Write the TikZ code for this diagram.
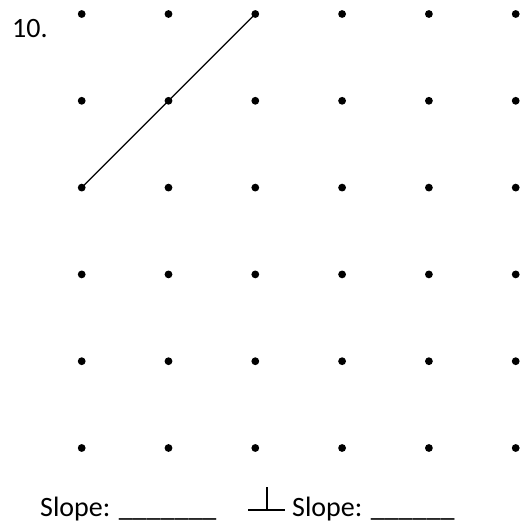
\documentclass[tikz,border=0pt]{standalone}
\usepackage{fontspec}
\setmainfont{Carlito}
\tikzset{
  gdot/.style={circle,fill=black,inner sep=0pt,minimum size=7.8pt},
  lbl/.style={anchor=base west,inner sep=0pt,font=\fontsize{28}{34}\selectfont},
  seg/.style={draw=black,line width=1.3pt},
  perp/.style={draw=black,line width=2pt}
}
\begin{document}
\begin{tikzpicture}[x=1pt,y=-1pt]
\useasboundingbox (0,0) rectangle (532,529);
\foreach \i in {0,...,5}{
  \foreach \j in {0,...,5}{
    \node[gdot] (d-\i-\j) at ({81.7+86.8*\i},{14+86.8*\j}) {};
  }
}
\draw[seg] (d-0-2.center) -- (d-2-0.center);
\node[lbl] (num) at (12,38) {10.};
\node[lbl] (s1) at (40,516) {Slope: \_\_\_\_\_\_\_};
\node[lbl] (s2) at (292,516) {Slope: \_\_\_\_\_\_};
\coordinate (pl) at (248,510);
\coordinate (pr) at (285,510);
\coordinate (pm) at (267,510);
\coordinate (pt) at (267,487);
\draw[perp] (pl) -- (pr);
\draw[perp] (pm) -- (pt);
\end{tikzpicture}
\end{document}
